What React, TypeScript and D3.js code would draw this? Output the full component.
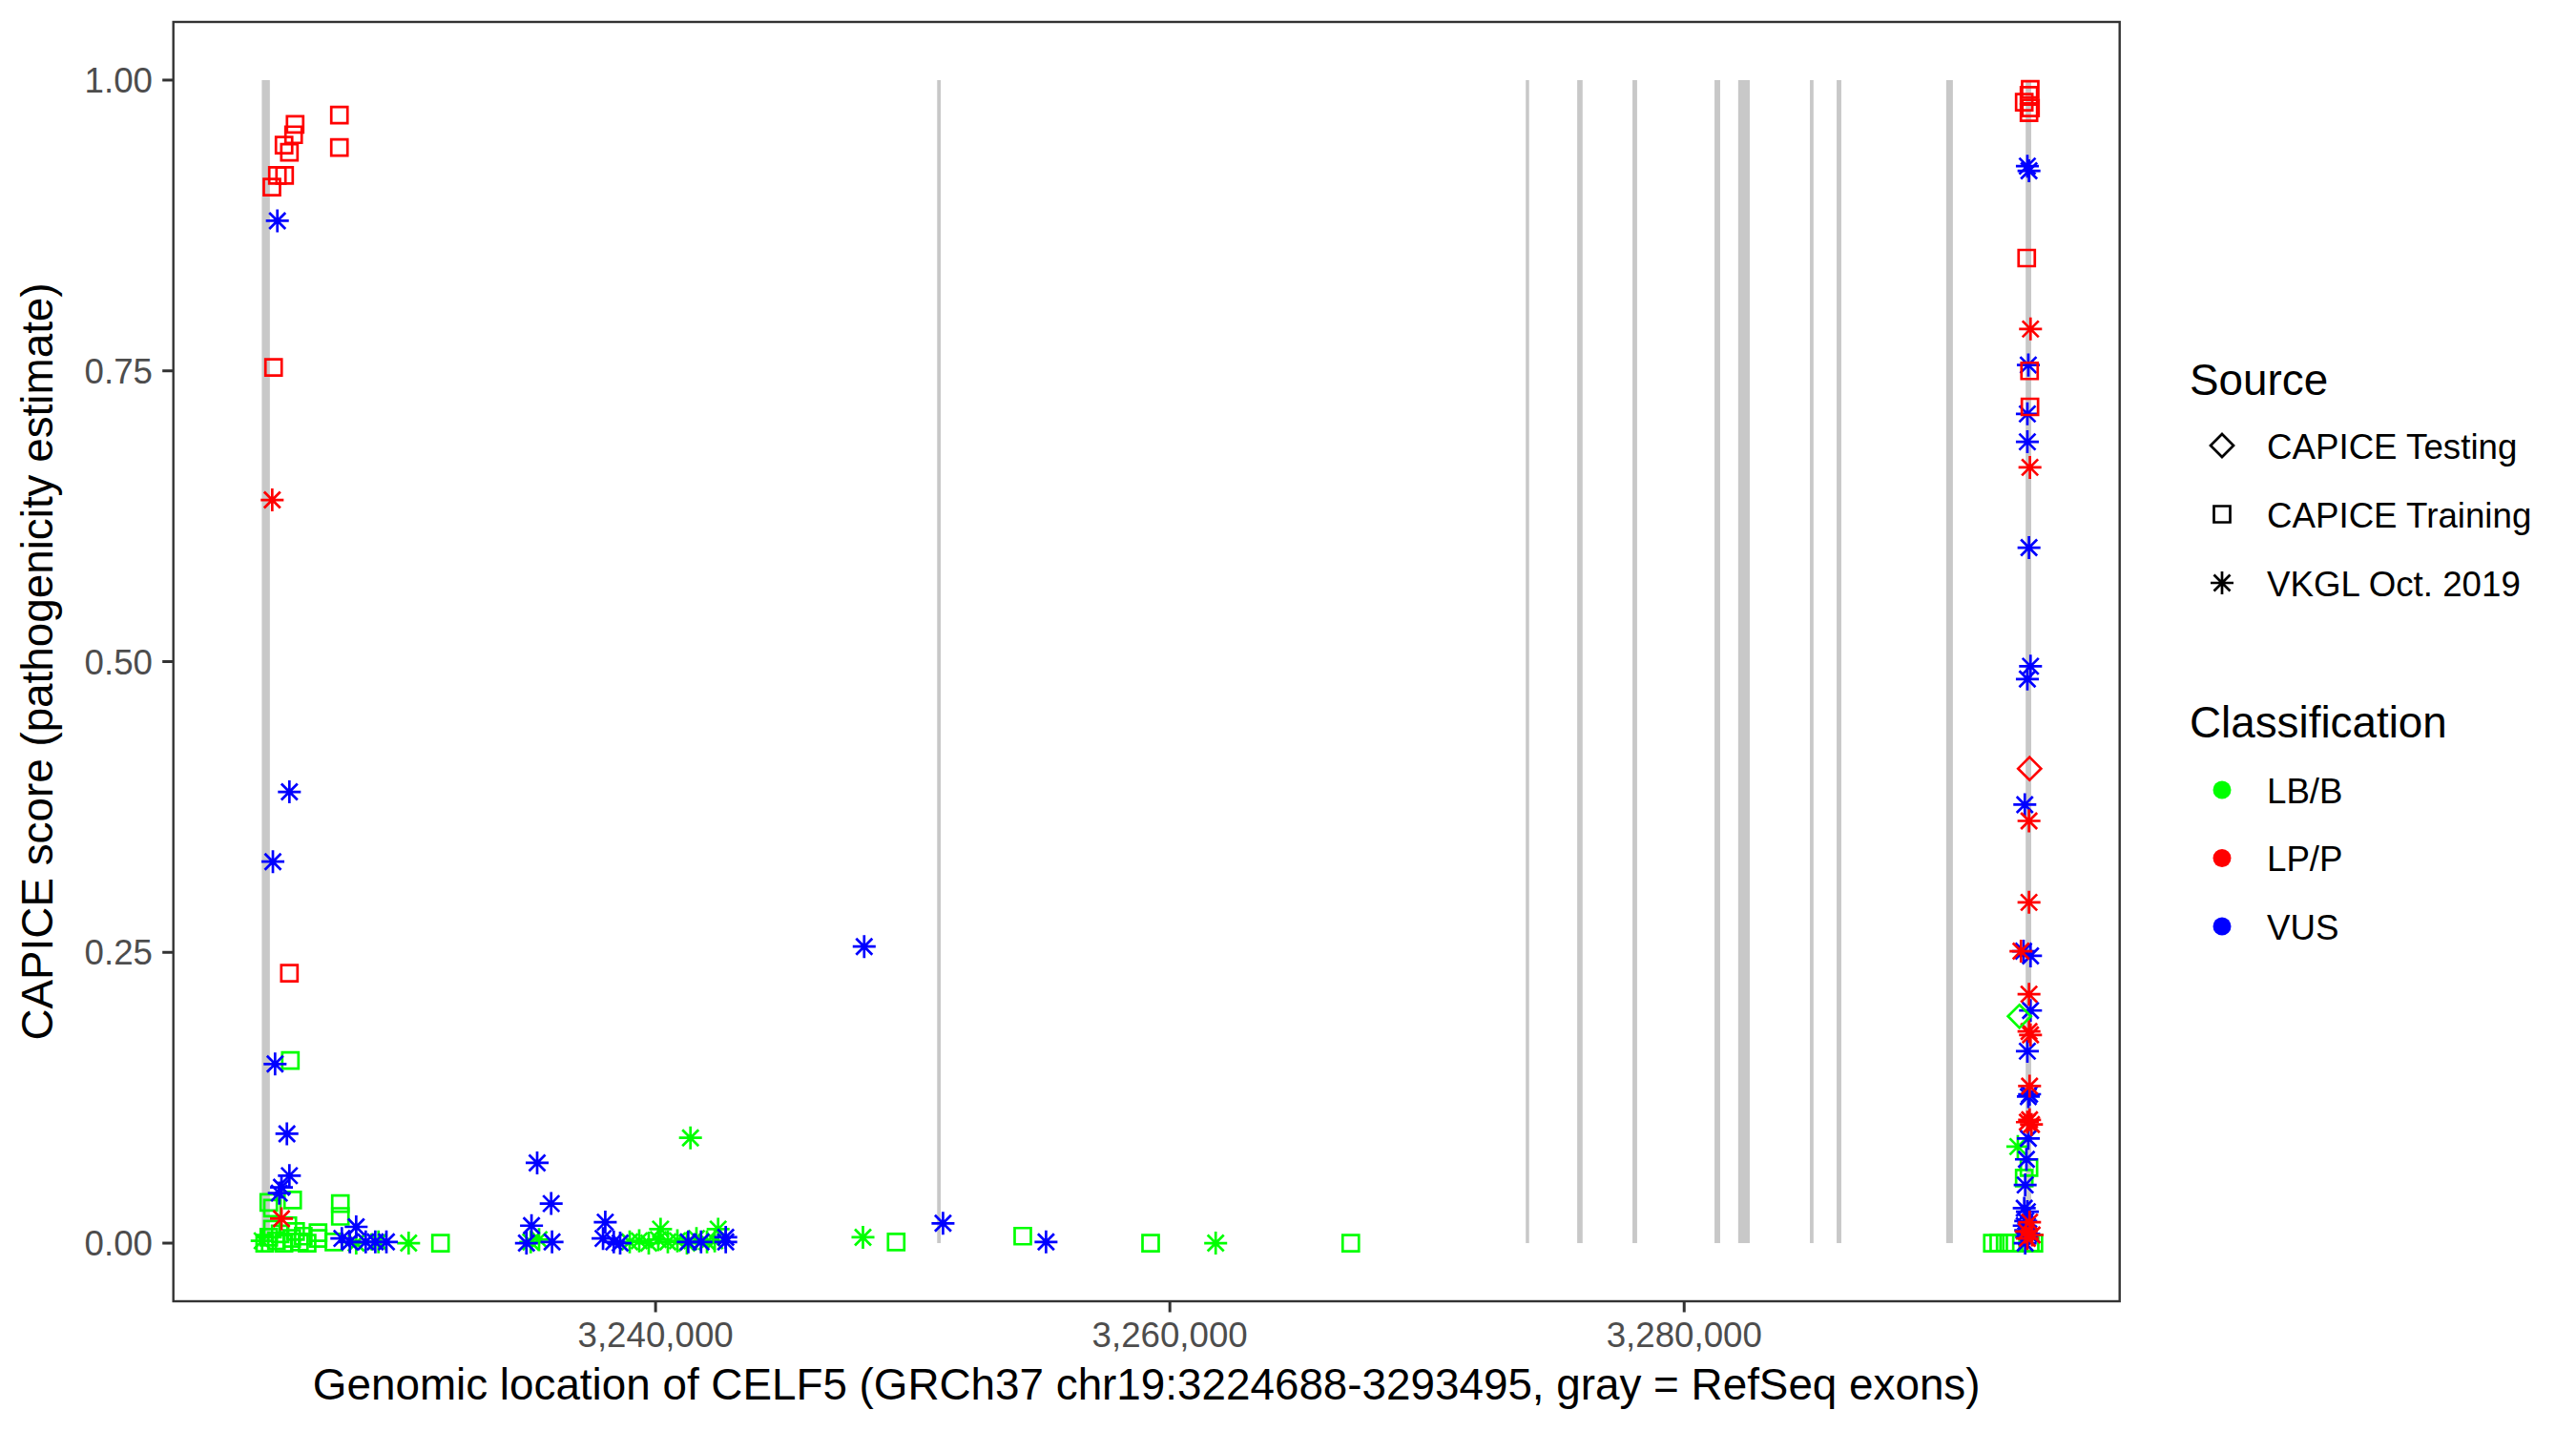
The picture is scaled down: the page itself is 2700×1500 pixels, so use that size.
import React from "react";
import * as d3 from "d3";

// ---------- data ----------
const geneStart = 3224688;
const geneEnd = 3293495;

// RefSeq exons (gray bars), [start, end]
const exons: [number, number][] = [
  [3224688, 3225000],
  [3250950, 3251090],
  [3273840, 3273970],
  [3275840, 3276050],
  [3277990, 3278170],
  [3281180, 3281400],
  [3282100, 3282550],
  [3284890, 3285030],
  [3285930, 3286110],
  [3290190, 3290450],
  [3293280, 3293495],
];

const xTicks = [3240000, 3260000, 3280000];
const yTicks = [0, 0.25, 0.5, 0.75, 1];

const sourceLabels = ["CAPICE Testing", "CAPICE Training", "VKGL Oct. 2019"];
const sourceShapes = ["diamond", "square", "asterisk"];
const classLabels = ["LB/B", "LP/P", "VUS"];
const classColors = ["#00FF00", "#FF0000", "#0000FF"];

// [genomic position, CAPICE score]
const testingLB: [number, number][] = [[3293038, 0.195]];
const testingLP: [number, number][] = [[3293432, 0.408]];

const trainingLB: [number, number][] = [
  [3225797, 0.157], [3224958, 0.035], [3225886, 0.037], [3225100, 0.030],
  [3224800, 0.0], [3224958, 0.005], [3225100, 0.012], [3225255, 0.002],
  [3225400, 0.008], [3225550, 0.0], [3225700, 0.015], [3225850, 0.004],
  [3226000, 0.010], [3226150, 0.001], [3226300, 0.006], [3226450, 0.0],
  [3226873, 0.009], [3226873, 0.004], [3227492, 0.001], [3227741, 0.034],
  [3227741, 0.023], [3231636, 0.0], [3249356, 0.001], [3254279, 0.006],
  [3259251, 0.0], [3267034, 0.0], [3291985, 0.0], [3292233, 0.0],
  [3292482, 0.0], [3292727, 0.0], [3293409, 0.065], [3293224, 0.056],
  [3293457, 0.0], [3293600, 0.0],
];

const trainingLP: [number, number][] = [
  [3225982, 0.962], [3225923, 0.953], [3225552, 0.944], [3225760, 0.938],
  [3225292, 0.918], [3225574, 0.918], [3225080, 0.908], [3227704, 0.970],
  [3227704, 0.942], [3225144, 0.753], [3225760, 0.232],
  [3293457, 0.992], [3293409, 0.987], [3293224, 0.981], [3293469, 0.976],
  [3293409, 0.972], [3293320, 0.847], [3293432, 0.750], [3293446, 0.719],
];

const vkglLB: [number, number][] = [
  [3224700, 0.002], [3228357, 0.0], [3229225, 0.001], [3230397, 0.0],
  [3235146, 0.001], [3235469, 0.003], [3238993, 0.001], [3239364, 0.002],
  [3239735, 0.0], [3240106, 0.003], [3240195, 0.012], [3240477, 0.001],
  [3240848, 0.002], [3241219, 0.0], [3241590, 0.004], [3242000, 0.001],
  [3242300, 0.002], [3242433, 0.012], [3241357, 0.0905], [3248065, 0.005],
  [3261781, 0.0], [3292975, 0.083],
];

const vkglVUS: [number, number][] = [
  [3225292, 0.879], [3225760, 0.388], [3225118, 0.328], [3225203, 0.154],
  [3225663, 0.094], [3225760, 0.058], [3225452, 0.048], [3225366, 0.043],
  [3228357, 0.014], [3227800, 0.004], [3228112, 0.001], [3228728, 0.001],
  [3229099, 0.001], [3229533, 0.001],
  [3235395, 0.069], [3235940, 0.034], [3235176, 0.015], [3234979, 0.0],
  [3235974, 0.001], [3238044, 0.018], [3237958, 0.004], [3238374, 0.001],
  [3238622, 0.0], [3241271, 0.001], [3241768, 0.001], [3242729, 0.001],
  [3242729, 0.005], [3248113, 0.255], [3251178, 0.017], [3255184, 0.001],
  [3293346, 0.926], [3293409, 0.922], [3293383, 0.755], [3293346, 0.713],
  [3293346, 0.689], [3293409, 0.598], [3293469, 0.496], [3293346, 0.485],
  [3293246, 0.377], [3293198, 0.251], [3293469, 0.247], [3293469, 0.200],
  [3293346, 0.165], [3293432, 0.128], [3293383, 0.126], [3293383, 0.090],
  [3293309, 0.072], [3293261, 0.050], [3293224, 0.030], [3293346, 0.027],
  [3293283, 0.019], [3293224, 0.015], [3293283, 0.011], [3293261, 0.0],
  [3293320, 0.005], [3293400, 0.008],
];

const vkglLP: [number, number][] = [
  [3225092, 0.639], [3225452, 0.021],
  [3293469, 0.786], [3293446, 0.667], [3293409, 0.363], [3293409, 0.293],
  [3293097, 0.251], [3293409, 0.214], [3293409, 0.182], [3293469, 0.179],
  [3293432, 0.135], [3293432, 0.106], [3293506, 0.102], [3293346, 0.104],
  [3293432, 0.018], [3293532, 0.007], [3293346, 0.004], [3293300, 0.010],
];

// ---------- layout ----------
const W = 2700;
const H = 1500;
const panel = { left: 181.7, right: 2221.7, top: 23, bottom: 1364 };
const FONT = "'Liberation Sans', Arial, Helvetica, sans-serif";
const R = 8.5;
const STROKE = 2.7;

function shapePath(shape: string, r: number): string {
  const a = Math.SQRT2 * r;
  if (shape === "diamond") return `M0,${-a}L${a},0L0,${a}L${-a},0Z`;
  if (shape === "square") return `M${-r},${-r}H${r}V${r}H${-r}Z`;
  return `M${-a},0H${a}M0,${-a}V${a}M${-r},${-r}L${r},${r}M${-r},${r}L${r},${-r}`;
}

export default function App() {
  const span = geneEnd - geneStart;
  const x = d3
    .scaleLinear()
    .domain([geneStart - 0.05 * span, geneEnd + 0.05 * span])
    .range([panel.left, panel.right]);
  const y = d3.scaleLinear().domain([-0.05, 1.05]).range([panel.bottom, panel.top]);
  const fmt = d3.format(",");

  const layers = [
    { pts: trainingLB, shape: "square", color: classColors[0] },
    { pts: vkglLB, shape: "asterisk", color: classColors[0] },
    { pts: vkglVUS, shape: "asterisk", color: classColors[2] },
    { pts: trainingLP, shape: "square", color: classColors[1] },
    { pts: vkglLP, shape: "asterisk", color: classColors[1] },
    { pts: testingLB, shape: "diamond", color: classColors[0] },
    { pts: testingLP, shape: "diamond", color: classColors[1] },
  ];

  const legX = 2295;
  const keyX = 2329;
  const labX = 2376;

  return (
    <svg
      width={W}
      height={H}
      viewBox={`0 0 ${W} ${H}`}
      style={{ position: "absolute", left: 0, top: 0, background: "#fff" }}
      fontFamily={FONT}
    >
      <rect x={0} y={0} width={W} height={H} fill="#fff" />
      {/* exons */}
      {exons.map(([s, e], i) => (
        <rect
          key={"ex" + i}
          x={x(s)}
          width={Math.max(x(e) - x(s), 1)}
          y={y(1)}
          height={y(0) - y(1)}
          fill="#C8C8C8"
        />
      ))}
      {/* points */}
      {layers.map((L, li) =>
        L.pts.map(([px, py], i) => (
          <path
            key={`p${li}-${i}`}
            transform={`translate(${x(px)},${y(py)})`}
            d={shapePath(L.shape, R)}
            fill="none"
            stroke={L.color}
            strokeWidth={STROKE}
          />
        ))
      )}
      {/* panel border */}
      <rect
        x={panel.left}
        y={panel.top}
        width={panel.right - panel.left}
        height={panel.bottom - panel.top}
        fill="none"
        stroke="#333333"
        strokeWidth={2.4}
      />
      {/* y axis */}
      {yTicks.map((t) => (
        <g key={"yt" + t}>
          <line x1={panel.left - 11.5} x2={panel.left} y1={y(t)} y2={y(t)} stroke="#333333" strokeWidth={3} />
          <text x={160} y={y(t) + 13} textAnchor="end" fontSize={36.7} fill="#4D4D4D">
            {t.toFixed(2)}
          </text>
        </g>
      ))}
      {/* x axis */}
      {xTicks.map((t) => (
        <g key={"xt" + t}>
          <line x1={x(t)} x2={x(t)} y1={panel.bottom} y2={panel.bottom + 11.5} stroke="#333333" strokeWidth={3} />
          <text x={x(t)} y={1412} textAnchor="middle" fontSize={36.7} fill="#4D4D4D">
            {fmt(t)}
          </text>
        </g>
      ))}
      <text x={(panel.left + panel.right) / 2} y={1467} textAnchor="middle" fontSize={45.8} fill="#000">
        Genomic location of CELF5 (GRCh37 chr19:3224688-3293495, gray = RefSeq exons)
      </text>
      <text
        transform={`translate(55,${(panel.top + panel.bottom) / 2}) rotate(-90)`}
        textAnchor="middle"
        fontSize={45.8}
        fill="#000"
      >
        CAPICE score (pathogenicity estimate)
      </text>
      {/* legend: Source */}
      <text x={legX} y={414} fontSize={45.8} fill="#000">Source</text>
      {sourceLabels.map((lab, i) => {
        const cy = 467 + i * 72;
        return (
          <g key={"sl" + i}>
            <path
              transform={`translate(${keyX},${cy})`}
              d={shapePath(sourceShapes[i], R)}
              fill="none"
              stroke="#000"
              strokeWidth={STROKE}
            />
            <text x={labX} y={cy + 13.5} fontSize={36.7} fill="#000">{lab}</text>
          </g>
        );
      })}
      {/* legend: Classification */}
      <text x={legX} y={773} fontSize={45.8} fill="#000">Classification</text>
      {classLabels.map((lab, i) => {
        const cy = 828 + i * 71.5;
        return (
          <g key={"cl" + i}>
            <circle cx={keyX} cy={cy} r={9.5} fill={classColors[i]} />
            <text x={labX} y={cy + 13.5} fontSize={36.7} fill="#000">{lab}</text>
          </g>
        );
      })}
    </svg>
  );
}
